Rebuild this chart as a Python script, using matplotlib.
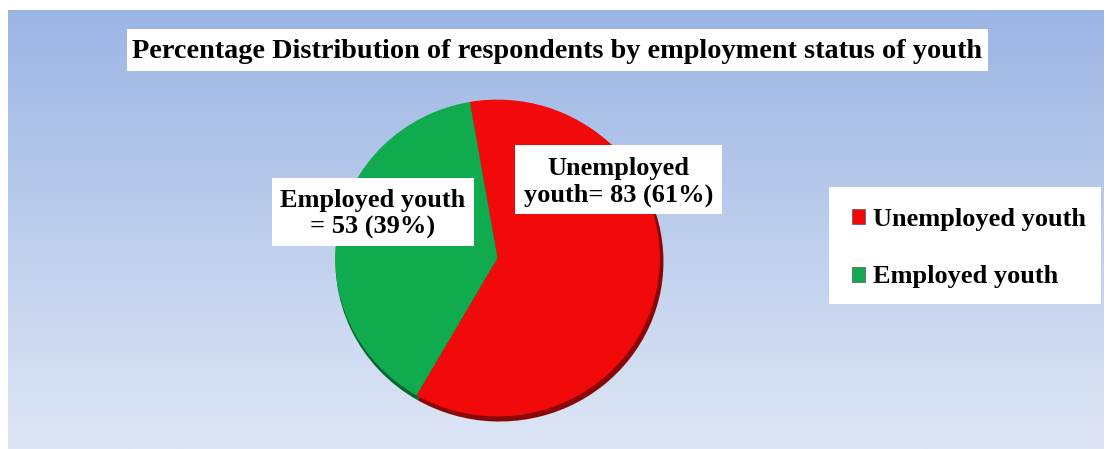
import numpy as np
import matplotlib.pyplot as plt
from matplotlib.patches import Rectangle

# chart data
categories = ['Unemployed youth', 'Employed youth']
counts = [83, 53]
percents = [61, 39]
colors = ['#f20a0a', '#10ab4f']
shadow_colors = ['#8a0707', '#086630']

W, H = 1109, 449
fig = plt.figure(figsize=(W / 100, H / 100), dpi=100)
fig.patch.set_facecolor('white')
serif = ['Liberation Serif', 'DejaVu Serif']


def fx(x):
    return x / W


def fy(y):
    return 1 - y / H


# gradient background panel
bg = fig.add_axes([fx(8), 0, fx(1104) - fx(8), fy(10)])
top = np.array([155, 181, 228]) / 255
bottom = np.array([222, 230, 245]) / 255
t = np.linspace(0, 1, 256)[:, None]
grad = top * (1 - t) + bottom * t
bg.imshow(grad[:, None, :], aspect='auto', extent=[0, 1, 0, 1])
bg.axis('off')

# pie (slightly elliptical, like the 3-D original)
cx, cy, rx, ry = 497.5, 258, 164, 160
pad = 1.03
ax = fig.add_axes([fx(cx - rx * pad), fy(cy + ry * pad), 2 * rx * pad / W, 2 * ry * pad / H])
ax.pie(counts, colors=shadow_colors, startangle=99.8, counterclock=False,
       radius=1.0, center=(0.012, -0.022), wedgeprops=dict(linewidth=0))
wedges, _ = ax.pie(counts, colors=colors, startangle=99.8, counterclock=False,
                   radius=0.99, wedgeprops=dict(linewidth=0))
ax.set_xlim(-pad, pad)
ax.set_ylim(-pad, pad)
ax.set_aspect('auto')
ax.axis('off')

# white boxes drawn in figure pixel coordinates
def white_box(x0, y0, x1, y1):
    fig.patches.append(Rectangle((fx(x0), fy(y1)), fx(x1) - fx(x0), fy(y0) - fy(y1),
                                 transform=fig.transFigure, facecolor='white',
                                 edgecolor='none', zorder=5))


# title
white_box(127, 29, 988, 71)
fig.text(fx(557.5), fy(51), 'Percentage Distribution of respondents by employment status of youth',
         ha='center', va='center', fontsize=20.3, fontweight='bold', family=serif, zorder=6)

# slice labels
white_box(515, 145, 722, 214)
fig.text(fx(618.5), fy(182), f'Unemployed\nyouth= {counts[0]} ({percents[0]}%)',
         ha='center', va='center', fontsize=19, fontweight='bold', family=serif,
         linespacing=1.22, zorder=6)
white_box(272, 178, 474, 246)
fig.text(fx(373), fy(214), f'Employed youth\n= {counts[1]} ({percents[1]}%)',
         ha='center', va='center', fontsize=19, fontweight='bold', family=serif,
         linespacing=1.22, zorder=6)

# legend
white_box(829, 187, 1101, 304)
leg = fig.legend(wedges, categories, loc='upper left', bbox_to_anchor=(fx(831), fy(187)),
                 frameon=False, handlelength=0.5, handleheight=0.5, handletextpad=0.3,
                 labelspacing=1.3, borderpad=0.3,
                 prop=dict(family=serif, weight='bold', size=19))
leg.set_zorder(7)
for h in leg.legend_handles:
    h.set_edgecolor('#555555')
    h.set_linewidth(0.5)

fig.savefig('out.png', dpi=100)
